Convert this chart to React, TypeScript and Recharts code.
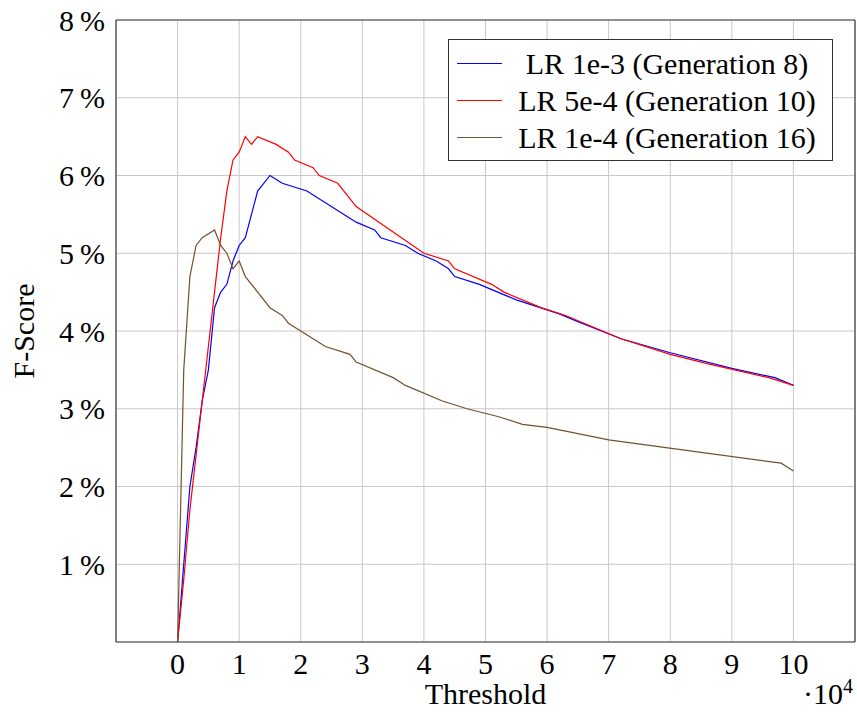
import { CartesianGrid, Line, LineChart, ReferenceLine, XAxis, YAxis } from "recharts";

const FONT = "Liberation Serif, DejaVu Serif, serif";
const FS = 30;

// threshold values (raw), f-score in percent
const blueThresholds = [
  0, 1000, 2000, 3000, 4000, 5000, 6000, 7000, 8000, 9000, 10000, 11000, 13000, 15000, 17000, 21000,
  29000, 32000, 33000, 37000, 39000, 42000, 44000, 45000, 49000, 55000, 62000, 65000, 72000, 80000,
  90000, 97000, 100000,
];
const blueScores = [
  0, 1.0, 2.0, 2.5, 3.1, 3.5, 4.3, 4.5, 4.6, 4.9, 5.1, 5.2, 5.8, 6.0, 5.9, 5.8, 5.4, 5.3, 5.2, 5.1,
  5.0, 4.9, 4.8, 4.7, 4.6, 4.4, 4.22, 4.12, 3.9, 3.72, 3.52, 3.4, 3.3,
];

const redThresholds = [
  0, 1000, 2000, 3000, 4000, 5000, 6000, 7000, 8000, 9000, 10000, 11000, 12000, 13000, 16000, 18000,
  19000, 22000, 23000, 26000, 29000, 40000, 44000, 45000, 51000, 53000, 59000, 63000, 72000, 80000,
  86000, 96000, 100000,
];
const redScores = [
  0, 0.8, 1.7, 2.4, 3.1, 3.8, 4.5, 5.2, 5.8, 6.2, 6.3, 6.5, 6.4, 6.5, 6.4, 6.3, 6.2, 6.1, 6.0, 5.9,
  5.6, 5.0, 4.9, 4.8, 4.6, 4.5, 4.3, 4.2, 3.9, 3.7, 3.58, 3.4, 3.3,
];

const brownThresholds = [
  0, 1000, 2000, 3000, 4000, 6000, 7000, 8000, 9000, 10000, 11000, 15000, 17000, 18000, 24000, 28000,
  29000, 35000, 37000, 43000, 47000, 52000, 56000, 60000, 70000, 98000, 100000,
];
const brownScores = [
  0, 3.5, 4.7, 5.1, 5.2, 5.3, 5.1, 5.0, 4.8, 4.9, 4.7, 4.3, 4.2, 4.1, 3.8, 3.7, 3.6, 3.4, 3.3, 3.1,
  3.0, 2.9, 2.8, 2.76, 2.6, 2.3, 2.2,
];

const xTicks = [0, 10000, 20000, 30000, 40000, 50000, 60000, 70000, 80000, 90000, 100000];
const yTicks = [1, 2, 3, 4, 5, 6, 7, 8];

const series = [
  { name: "LR 1e-3 (Generation 8)", color: "#0000ff", xs: blueThresholds, ys: blueScores },
  { name: "LR 5e-4 (Generation 10)", color: "#ff0000", xs: redThresholds, ys: redScores },
  { name: "LR 1e-4 (Generation 16)", color: "#74512d", xs: brownThresholds, ys: brownScores },
];

const toPoints = (xs: number[], ys: number[]) => xs.map((t, i) => ({ t, f: ys[i] }));

function XLabel({ viewBox }: { viewBox?: { x: number; y: number; width: number; height: number } }) {
  if (!viewBox) return null;
  const { x, y, width } = viewBox;
  return (
    <g style={{ fontFamily: FONT }}>
      <text x={x + width / 2} y={y + 62} textAnchor="middle" fontSize={FS} fill="#000">
        Threshold
      </text>
      <text x={x + width - 2} y={y + 62} textAnchor="end" fontSize={FS} fill="#000">
        ·10
        <tspan dy={-11} fontSize={20}>
          4
        </tspan>
      </text>
    </g>
  );
}

function YLabel({ viewBox }: { viewBox?: { x: number; y: number; width: number; height: number } }) {
  if (!viewBox) return null;
  const cx = 23;
  const cy = viewBox.y + viewBox.height / 2;
  return (
    <text
      x={cx}
      y={cy}
      transform={`rotate(-90 ${cx} ${cy})`}
      textAnchor="middle"
      dominantBaseline="central"
      style={{ fontFamily: FONT }}
      fontSize={FS}
      fill="#000"
    >
      F-Score
    </text>
  );
}

function LegendBox() {
  return (
    <div
      style={{
        position: "absolute",
        left: 448,
        top: 39,
        width: 383,
        height: 120,
        border: "1px solid #333",
        background: "#fff",
        fontFamily: FONT,
        fontSize: FS,
        boxSizing: "content-box",
      }}
    >
      {series.map((s, i) => (
        <div
          key={s.name}
          style={{ position: "absolute", left: 0, top: 5 + i * 37, height: 37, width: 383, display: "flex", alignItems: "center" }}
        >
          <div style={{ width: 45, height: 0, borderTop: `1.3px solid ${s.color}`, marginLeft: 8 }} />
          <div style={{ flex: 1, textAlign: "center", whiteSpace: "nowrap", lineHeight: "37px" }}>{s.name}</div>
        </div>
      ))}
    </div>
  );
}

export default function App() {
  return (
    <div style={{ position: "absolute", left: 0, top: 0, width: 857, height: 718, background: "#fff", fontFamily: FONT }}>
      <LineChart width={857} height={718} margin={{ top: 20, right: 2, bottom: 0, left: 0 }}>
        <CartesianGrid stroke="#c8c8c8" strokeWidth={1} />
        <XAxis
          dataKey="t"
          type="number"
          domain={[-10000, 110000]}
          ticks={xTicks}
          tickFormatter={(v) => String(v / 10000)}
          tick={{ fill: "#000", fontSize: FS, fontFamily: FONT }}
          tickLine={false}
          tickSize={0}
          tickMargin={11}
          stroke="#3c3c3c"
          strokeWidth={1.2}
          height={76}
          allowDuplicatedCategory={false}
          label={<XLabel />}
        />
        <YAxis
          type="number"
          domain={[0, 8]}
          ticks={yTicks}
          tickFormatter={(v) => `${v}\u2009%`}
          tick={{ fill: "#000", fontSize: FS, fontFamily: FONT }}
          tickLine={false}
          tickSize={0}
          tickMargin={11}
          stroke="#3c3c3c"
          strokeWidth={1.2}
          width={116}
          label={<YLabel />}
        />
        <ReferenceLine y={8} stroke="#3c3c3c" strokeWidth={1.2} />
        <ReferenceLine x={110000} stroke="#3c3c3c" strokeWidth={1.2} />
        {series.map((s) => (
          <Line
            key={s.name}
            data={toPoints(s.xs, s.ys)}
            dataKey="f"
            name={s.name}
            type="linear"
            stroke={s.color}
            strokeWidth={1.2}
            dot={false}
            activeDot={false}
            isAnimationActive={false}
          />
        ))}
      </LineChart>
      <LegendBox />
    </div>
  );
}
